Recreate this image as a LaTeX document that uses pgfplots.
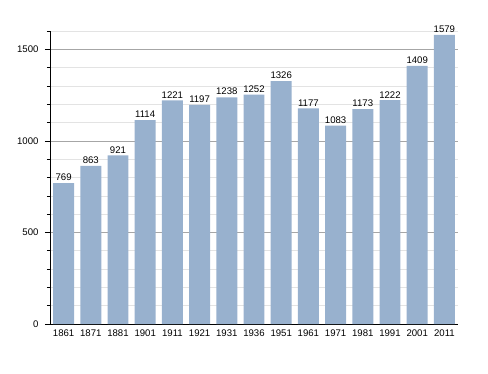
\documentclass[border=0pt]{standalone}
\usepackage{pgfplots}
\pgfplotsset{compat=1.18}
\usepackage{fontspec}
\setmainfont{Liberation Sans}
\definecolor{barblue}{HTML}{98B1CE}
\begin{document}
\begin{tikzpicture}[x=1pt,y=1pt]
\path[use as bounding box] (0,0) rectangle (488,373);
\begin{axis}[
  at={(50pt,49pt)}, anchor=south west,
  scale only axis, width=408pt, height=293pt,
  xmin=-0.5, xmax=14.5, ymin=0, ymax=1600,
  axis x line*=bottom, axis y line*=left,
  axis line style={black, line width=0.8pt},
  xtick=data,
  xticklabels={1861,1871,1881,1901,1911,1921,1931,1936,1951,1961,1971,1981,1991,2001,2011},
  x tick style={draw=none},
  ytick={0,500,1000,1500},
  minor ytick={100,200,300,400,600,700,800,900,1100,1200,1300,1400,1600},
  ymajorgrids, yminorgrids,
  major grid style={draw=gray!70, line width=0.6pt},
  minor grid style={draw=gray!22, line width=0.6pt},
  y tick style={black, line width=0.6pt},
  tick align=outside,
  major tick length=5pt, minor tick length=3pt,
  tick label style={font=\fontsize{9.6}{11}\selectfont},
  /pgf/number format/assume math mode=true,
  /pgf/number format/1000 sep={},
  xticklabel style={yshift=3pt},
  yticklabel style={xshift=-3pt},
  nodes near coords,
  nodes near coords style={font=\fontsize{9.6}{11}\selectfont, /pgf/number format/1000 sep={}, inner sep=2pt},
  clip=false,
]
\addplot[ybar, bar width=0.77, fill=barblue, draw=none, bar shift=0pt] coordinates {
(0,769) (1,863) (2,921) (3,1114) (4,1221) (5,1197) (6,1238) (7,1252) (8,1326) (9,1177) (10,1083) (11,1173) (12,1222) (13,1409) (14,1579)
};
\end{axis}
\end{tikzpicture}
\end{document}
